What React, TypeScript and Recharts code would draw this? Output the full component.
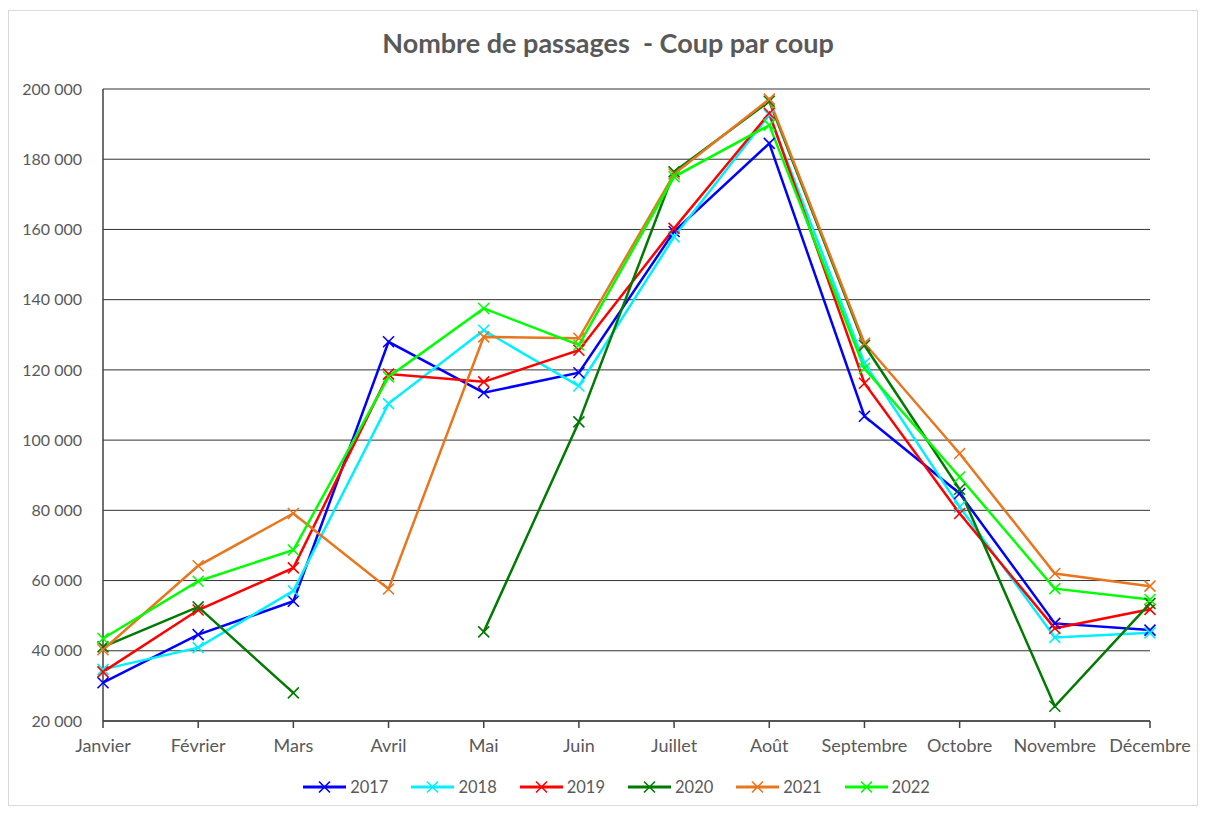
import React from 'react';
import { LineChart, Line, XAxis, YAxis, CartesianGrid, Legend } from 'recharts';

const months = ['Janvier', 'Février', 'Mars', 'Avril', 'Mai', 'Juin', 'Juillet', 'Août', 'Septembre', 'Octobre', 'Novembre', 'Décembre'];
const y2017 = [30900, 44600, 54100, 128000, 113500, 119200, 159400, 184500, 106800, 84800, 47800, 45900];
const y2018 = [34700, 40900, 57100, 110400, 131300, 115400, 157900, 192600, 121900, 81000, 43800, 45100];
const y2019 = [34000, 51600, 63600, 118800, 116600, 125600, 160300, 193100, 116200, 79100, 46400, 51800];
const y2020 = [41100, 52500, 28000, null, 45400, 105200, 176400, 196500, 127000, 86000, 24200, 53500];
const y2021 = [40300, 64200, 79100, 57600, 129400, 129000, 175800, 197100, 127600, 96200, 62000, 58400];
const y2022 = [43500, 59800, 68700, 118000, 137500, 127100, 175000, 189700, 120400, 89500, 57700, 54600];
const yTicks = [20000, 40000, 60000, 80000, 100000, 120000, 140000, 160000, 180000, 200000];

const seriesList = [
  { key: '2017', values: y2017, color: '#0000FF' },
  { key: '2018', values: y2018, color: '#00F0FF' },
  { key: '2019', values: y2019, color: '#FF0000' },
  { key: '2020', values: y2020, color: '#007A00' },
  { key: '2021', values: y2021, color: '#E8761E' },
  { key: '2022', values: y2022, color: '#00FF00' },
];

const data = months.map((m, i) => {
  const row: any = { month: m };
  seriesList.forEach((s) => {
    row[s.key] = s.values[i];
  });
  return row;
});

const FONT = 'Lato, "Open Sans", sans-serif';
const TEXT = '#595959';

const fmt = (v: number) => {
  const s = String(Math.round(v));
  return s.replace(/\B(?=(\d{3})+(?!\d))/g, ' ');
};

const makeDot = (color: string) => (props: any) => {
  const { cx, cy, index } = props;
  if (cx == null || cy == null || isNaN(cx) || isNaN(cy)) return <g key={'d' + index} />;
  const r = 5.5;
  return (
    <path
      key={'d' + index}
      d={`M${cx - r},${cy - r}L${cx + r},${cy + r}M${cx - r},${cy + r}L${cx + r},${cy - r}`}
      stroke={color}
      strokeWidth={1.6}
      fill="none"
    />
  );
};

const CustomLegend = () => (
  <div style={{ display: 'flex', justifyContent: 'center', alignItems: 'center', paddingLeft: 50, fontFamily: FONT, fontSize: 16.5, color: TEXT }}>
    {seriesList.map((s) => (
      <div key={s.key} style={{ display: 'flex', alignItems: 'center', marginRight: 23 }}>
        <svg width={43} height={14} style={{ marginRight: 4 }}>
          <line x1={0} y1={7} x2={43} y2={7} stroke={s.color} strokeWidth={3} />
          <path d="M16,1.5L27,12.5M16,12.5L27,1.5" stroke={s.color} strokeWidth={1.6} />
        </svg>
        <span>{s.key}</span>
      </div>
    ))}
  </div>
);

export default function App() {
  return (
    <div
      style={{
        position: 'relative',
        width: 1190,
        height: 796,
        marginTop: 2,
        border: '1px solid #d9d9d9',
        boxSizing: 'border-box',
        background: '#fff',
      }}
    >
      <div
        style={{
          position: 'absolute',
          top: 15,
          left: 0,
          width: 1188,
          textAlign: 'center',
          fontFamily: FONT,
          fontWeight: 'bold',
          fontSize: 27,
          color: TEXT,
          whiteSpace: 'pre',
          paddingLeft: 10,
          boxSizing: 'border-box',
        }}
      >
        Nombre de passages  - Coup par coup
      </div>
      <LineChart width={1188} height={794} data={data} margin={{ top: 78, right: 47, left: 0, bottom: 54 }}>
        <CartesianGrid vertical={false} stroke="#333333" strokeWidth={1} />
        <XAxis
          dataKey="month"
          interval={0}
          height={30}
          stroke="#404040"
          strokeWidth={1.5}
          tickSize={7}
          tickMargin={11}
          tick={{ fill: TEXT, fontFamily: FONT, fontSize: 18 }}
        />
        <YAxis
          width={94}
          domain={[20000, 200000]}
          ticks={yTicks}
          interval={0}
          tickFormatter={fmt}
          tickLine={false}
          tickMargin={15}
          stroke="#404040"
          strokeWidth={1.5}
          tick={{ fill: TEXT, fontFamily: FONT, fontSize: 16 }}
        />
        <Legend
          layout="horizontal"
          verticalAlign="middle"
          align="center"
          content={<CustomLegend />}
          wrapperStyle={{ top: 766, left: 0, width: 1188 }}
        />
        {seriesList.map((s) => (
          <Line
            key={s.key}
            type="linear"
            dataKey={s.key}
            stroke={s.color}
            strokeWidth={2.5}
            dot={makeDot(s.color)}
            activeDot={false}
            isAnimationActive={false}
            connectNulls={false}
          />
        ))}
      </LineChart>
    </div>
  );
}
